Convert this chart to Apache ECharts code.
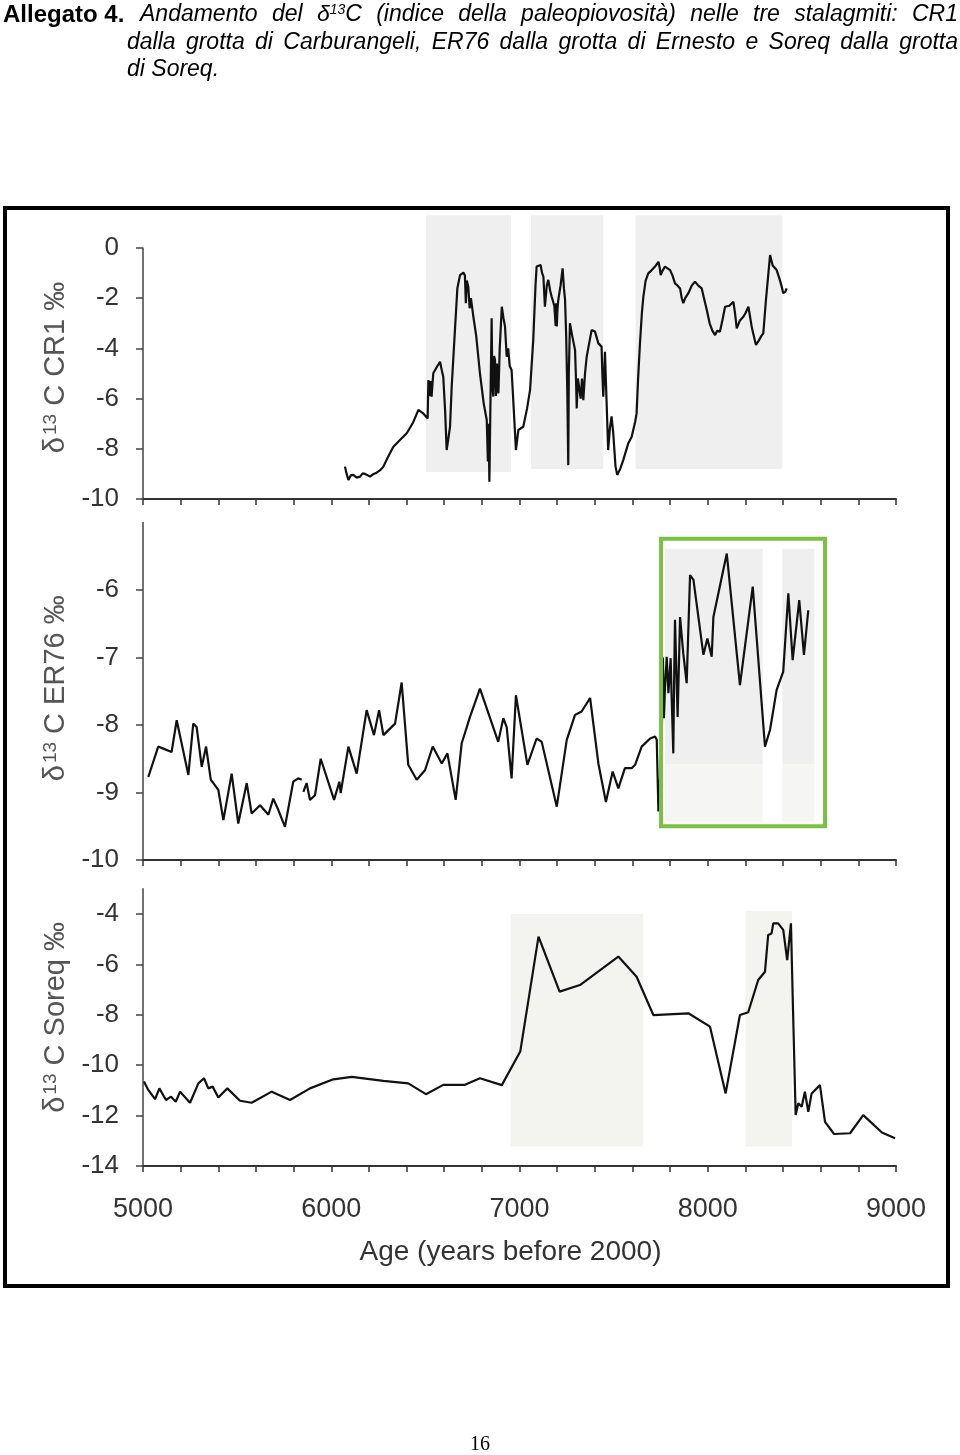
<!DOCTYPE html>
<html><head><meta charset="utf-8">
<script src="https://cdn.jsdelivr.net/npm/echarts@6/dist/echarts.min.js"></script>
<style>html,body{margin:0;padding:0;background:#fff}#c{width:960px;height:1455px}</style>
</head><body><div id="c"></div>
<script>
// ---------- DATA ----------
const xTickLabels = [5000, 6000, 7000, 8000, 9000];
const cr1Ticks = [0, -2, -4, -6, -8, -10];
const er76Ticks = [-6, -7, -8, -9, -10];
const soreqTicks = [-4, -6, -8, -10, -12, -14];

const cr1Age = [6073,6080,6091,6105,6117,6135,6153,6167,6179,6193,6206,6225,6241,6260,6277,6300,6330,6365,6401,6435,6463,6490,6512,6516,6522,6527,6533,6542,6560,6578,6588,6595,6605,6613,6622,6631,6640,6650,6657,6670,6684,6702,6710,6715,6720,6728,6735,6742,6755,6770,6790,6810,6826,6832,6836,6840,6846,6852,6856,6861,6865,6870,6875,6880,6888,6895,6906,6915,6923,6932,6940,6948,6958,6970,6981,6994,7020,7040,7056,7073,7085,7091,7112,7120,7127,7135,7145,7153,7163,7171,7185,7192,7195,7198,7202,7206,7218,7229,7236,7242,7248,7254,7259,7262,7268,7280,7295,7300,7304,7310,7318,7325,7332,7339,7348,7357,7370,7383,7401,7419,7436,7440,7445,7450,7454,7462,7471,7480,7489,7498,7510,7519,7535,7551,7565,7578,7596,7615,7622,7630,7640,7650,7658,7670,7684,7700,7720,7738,7745,7750,7760,7773,7800,7813,7826,7840,7853,7862,7870,7880,7897,7915,7932,7950,7968,7980,7995,8010,8025,8039,8050,8065,8080,8092,8115,8136,8145,8154,8170,8189,8200,8216,8235,8256,8270,8285,8295,8310,8331,8345,8366,8380,8393,8401,8412,8419];
const cr1D13C = [-8.71,-8.95,-9.24,-9.05,-9.04,-9.15,-9.11,-8.98,-9.0,-9.05,-9.11,-9.0,-8.95,-8.85,-8.71,-8.35,-7.92,-7.65,-7.38,-6.95,-6.45,-6.6,-6.79,-5.26,-5.9,-5.3,-5.92,-4.99,-4.75,-4.53,-4.9,-5.13,-6.5,-8.05,-7.6,-7.12,-5.5,-4.2,-3.27,-1.6,-1.08,-0.98,-1.1,-2.2,-1.3,-1.54,-2.4,-2.0,-2.74,-3.5,-5.0,-6.2,-6.85,-8.5,-7.0,-9.31,-6.0,-2.8,-5.5,-5.92,-4.3,-4.46,-5.9,-4.6,-5.79,-4.0,-2.34,-2.8,-3.13,-4.33,-4.0,-4.7,-4.86,-6.5,-8.05,-7.25,-7.12,-6.4,-5.66,-3.67,-1.5,-0.74,-0.68,-1.0,-1.14,-2.34,-1.5,-1.27,-1.7,-1.94,-2.3,-3.1,-2.2,-3.13,-2.4,-2.07,-1.5,-0.81,-1.6,-2.07,-3.5,-5.79,-8.65,-5.0,-3.0,-3.5,-4.06,-5.2,-6.39,-5.2,-5.13,-6.0,-5.2,-6.06,-5.0,-4.33,-3.8,-3.27,-3.33,-3.8,-3.93,-5.0,-5.92,-5.0,-4.13,-6.0,-8.05,-7.2,-6.71,-7.38,-8.7,-9.04,-8.8,-8.45,-8.1,-7.78,-7.52,-6.9,-6.59,-5.2,-3.8,-2.6,-1.94,-1.3,-1.01,-0.9,-0.74,-0.55,-0.8,-1.08,-0.9,-0.74,-0.88,-1.1,-1.41,-1.5,-1.61,-2.0,-2.2,-2.0,-1.8,-1.5,-1.34,-1.5,-1.61,-2.0,-2.47,-3.0,-3.3,-3.47,-3.3,-3.33,-2.8,-2.34,-2.3,-2.14,-2.6,-3.2,-2.9,-2.74,-2.6,-2.34,-3.2,-3.86,-3.7,-3.5,-3.4,-2.0,-0.28,-0.7,-0.88,-1.2,-1.54,-1.8,-1.75,-1.61];

const er76Age = [5028,5081,5108,5152,5179,5241,5267,5285,5312,5335,5360,5400,5427,5471,5506,5551,5577,5622,5666,5692,5719,5754,5798,5825,5843,5848,5852,5869,5887,5914,5944,6015,6043,6050,6091,6135,6188,6227,6254,6277,6339,6374,6409,6454,6498,6539,6587,6617,6661,6693,6737,6790,6887,6914,6932,6958,6981,7042,7091,7118,7198,7251,7295,7330,7375,7419,7459,7495,7525,7560,7596,7614,7649,7694,7720,7729,7738,7755,7762,7767,7773,7782,7791,7803,7808,7817,7822,7826,7840,7853,7870,7888,7906,7924,7977,7998,8021,8030,8101,8171,8239,8304,8331,8366,8401,8428,8451,8486,8511,8534];
const er76D13C = [-8.77,-8.32,-8.35,-8.40,-7.93,-8.74,-7.98,-8.03,-8.62,-8.32,-8.81,-8.96,-9.41,-8.72,-9.46,-8.86,-9.31,-9.19,-9.33,-9.09,-9.26,-9.51,-8.84,-8.79,-8.81,null,-8.99,-8.86,-9.11,-9.04,-8.50,-9.11,-8.84,-9.01,-8.32,-8.72,-7.78,-8.15,-7.78,-8.15,-7.98,-7.37,-8.59,-8.81,-8.67,-8.32,-8.57,-8.42,-9.11,-8.27,-7.88,-7.46,-8.25,-7.90,-8.03,-8.79,-7.56,-8.59,-8.20,-8.25,-9.21,-8.22,-7.85,-7.80,-7.60,-8.57,-9.14,-8.69,-8.94,-8.64,-8.64,-8.59,-8.32,-8.20,-8.17,-8.22,-9.28,-8.32,-7.0,-7.9,-7.43,-6.99,-7.53,-7.01,-7.56,-8.42,-7.2,-6.44,-7.88,-6.40,-6.94,-7.38,-5.78,-5.85,-6.96,-6.72,-6.99,-6.40,-5.46,-7.41,-5.95,-8.32,-8.07,-7.48,-7.21,-6.05,-7.04,-6.15,-6.96,-6.30];

const soreqAge = [5005,5028,5064,5087,5122,5149,5174,5197,5250,5294,5324,5347,5370,5400,5448,5515,5577,5684,5781,5887,6011,6109,6277,6409,6503,6595,6710,6790,6906,7004,7101,7213,7321,7525,7622,7711,7897,8012,8095,8171,8215,8268,8304,8321,8339,8348,8374,8401,8422,8433,8442,8451,8467,8481,8499,8516,8534,8552,8596,8623,8671,8756,8826,8925,8995];
const soreqD13C = [-10.65,-10.98,-11.35,-10.92,-11.38,-11.25,-11.45,-11.05,-11.49,-10.72,-10.52,-10.92,-10.85,-11.28,-10.92,-11.41,-11.49,-11.05,-11.38,-10.92,-10.56,-10.46,-10.62,-10.72,-11.15,-10.78,-10.78,-10.52,-10.79,-9.46,-4.90,-7.08,-6.82,-5.69,-6.49,-8.01,-7.94,-8.47,-11.12,-8.01,-7.90,-6.62,-6.29,-4.83,-4.77,-4.37,-4.37,-4.63,-5.83,-5.03,-4.37,-7.21,-11.98,-11.51,-11.65,-11.05,-11.85,-11.12,-10.79,-12.25,-12.73,-12.70,-11.98,-12.67,-12.90];

// shaded intervals: [ageFrom, ageTo, valueBottom, valueTop]
const shadeCR1 = [[6503, 6955, -8.92, 1.3], [7061, 7445, -8.8, 1.3], [7617, 8396, -8.8, 1.3]];
const shadeER76Upper = [[7773, 8292, -8.58, -5.39], [8396, 8566, -8.58, -5.39]];
const shadeER76Lower = [[7773, 8292, -9.44, -8.58], [8396, 8566, -9.44, -8.58]];
const boxER76 = [[7752, 8623, -9.50, -5.24]];
const shadeSoreq = [[6953, 7657, -13.23, -4.0], [8201, 8447, -13.23, -3.88]];

// ---------- CHART ----------
const FONT = 'Liberation Sans';
const zip = (a, b) => a.map((x, i) => [x, b[i]]);

function rectSeries(xi, yi, data, fill, stroke, z) {
  return {
    type: 'custom', xAxisIndex: xi, yAxisIndex: yi, z: z, clip: false, silent: true,
    data: data,
    renderItem: function (params, api) {
      const p0 = api.coord([api.value(0), api.value(3)]);
      const p1 = api.coord([api.value(1), api.value(2)]);
      return {
        type: 'rect',
        shape: { x: p0[0], y: p0[1], width: p1[0] - p0[0], height: p1[1] - p0[1] },
        style: stroke ? { fill: 'none', stroke: stroke, lineWidth: 4 } : { fill: fill }
      };
    }
  };
}

function xAx(gi, withLabels) {
  const ax = {
    type: 'value', gridIndex: gi, min: 5000, max: 9000, interval: 200,
    axisLine: { show: true, onZero: false, lineStyle: { color: '#333', width: 2 } },
    axisTick: { show: true, inside: false, length: 6, lineStyle: { color: '#333', width: 1.5 } },
    axisLabel: { show: withLabels, customValues: xTickLabels, formatter: v => String(v), color: '#333', fontSize: 27, fontFamily: FONT, margin: 30 },
    splitLine: { show: false }
  };
  if (withLabels) {
    ax.name = 'Age (years before 2000)';
    ax.nameLocation = 'middle';
    ax.nameGap = 72;
    ax.nameTextStyle = { color: '#333', fontSize: 28, fontFamily: FONT, padding: [0, 18, 0, 0] };
  }
  return ax;
}

function yAx(gi, min, max, ticks, label, shiftUp) {
  return {
    type: 'value', gridIndex: gi, min: min, max: max,
    axisLine: { show: true, onZero: false, lineStyle: { color: '#444', width: 1.5 } },
    axisTick: { show: true, inside: false, length: 7, customValues: ticks, lineStyle: { color: '#444', width: 1.5 } },
    axisLabel: { customValues: ticks, color: '#333', fontSize: 26, fontFamily: FONT, margin: 24 },
    splitLine: { show: false },
    name: '{a|δ}{b|13}{a| C ' + label + ' ‰}',
    nameLocation: 'middle', nameGap: 70, nameRotate: 90,
    nameTextStyle: {
      color: '#555', fontSize: 29, fontFamily: FONT, padding: [0, 0, 0, shiftUp * 2],
      rich: {
        a: { color: '#555', fontSize: 29, fontFamily: FONT },
        b: { color: '#555', fontSize: 19, fontFamily: FONT, verticalAlign: 'top', padding: [0, 0, 0, 2] }
      }
    }
  };
}

function hiddenAx(gi, min, max) {
  return { type: 'value', gridIndex: gi, min: min, max: max, show: false, splitLine: { show: false } };
}

function lineSeries(xi, data) {
  return {
    type: 'line', xAxisIndex: xi, yAxisIndex: xi, data: data, z: 3,
    symbol: 'none', showSymbol: false, connectNulls: false, silent: true,
    lineStyle: { color: '#111', width: 2.2 }
  };
}

// ---------- TITLE (justified text) ----------
const mctx = document.createElement('canvas').getContext('2d');
function tw(text, font) { mctx.font = font; return mctx.measureText(text).width; }
const TS = 23, TSUP = 14;
const fItalic = 'italic ' + TS + 'px "' + FONT + '"';
const fItalicSup = 'italic ' + TSUP + 'px "' + FONT + '"';
const fBold = 'bold 24px "' + FONT + '"';

function wordItem(w) {
  if (w === 'δ13C') {
    return {
      width: tw('δ', fItalic) + tw('13', fItalicSup) + tw('C', fItalic),
      style: {
        text: '{n|δ}{s|13}{n|C}',
        rich: {
          n: { fontStyle: 'italic', fontSize: TS, fontFamily: FONT, fill: '#000', verticalAlign: 'bottom' },
          s: { fontStyle: 'italic', fontSize: TSUP, fontFamily: FONT, fill: '#000', verticalAlign: 'top' }
        }
      }
    };
  }
  return { width: tw(w, fItalic), style: { text: w, font: fItalic, fill: '#000' } };
}
function justify(words, x0, x1, yc, justifyIt) {
  const items = words.map(wordItem);
  const sum = items.reduce((s, it) => s + it.width, 0);
  const gap = justifyIt ? (x1 - x0 - sum) / (items.length - 1) : tw(' ', fItalic);
  let x = x0;
  const out = [];
  items.forEach(it => {
    out.push({ type: 'text', x: x, y: yc, style: Object.assign({ verticalAlign: 'middle', align: 'left' }, it.style) });
    x += it.width + gap;
  });
  return out;
}
const titleBold = 'Allegato 4.';
const titleLine1 = 'Andamento del δ13C (indice della paleopiovosità) nelle tre stalagmiti: CR1';
const titleLine2 = 'dalla grotta di Carburangeli, ER76 dalla grotta di Ernesto e Soreq dalla grotta';
const titleLine3 = 'di Soreq.';

const graphics = [
  { type: 'text', x: 3, y: 15, style: { text: titleBold, font: fBold, fill: '#000', verticalAlign: 'middle' } }
]
  .concat(justify(titleLine1.split(' '), 140, 958, 15, true))
  .concat(justify(titleLine2.split(' '), 127, 958, 43, true))
  .concat(justify(titleLine3.split(' '), 127, 958, 70, false))
  .concat([
    { type: 'rect', z: 10, shape: { x: 5, y: 208, width: 943, height: 1078 }, style: { fill: 'none', stroke: '#000', lineWidth: 4 } },
    { type: 'text', x: 480, y: 1445, style: { text: '16', font: '20px "Liberation Serif"', fill: '#000', align: 'center', verticalAlign: 'middle' } }
  ]);

const chart = echarts.init(document.getElementById('c'), null, { renderer: 'canvas' });
chart.setOption({
  animation: false,
  backgroundColor: '#fff',
  grid: [
    { left: 143, width: 753, top: 248, height: 251, outerBoundsMode: 'none' },      // CR1
    { left: 143, width: 753, top: 522.5, height: 337.5, outerBoundsMode: 'none' },  // ER76
    { left: 143, width: 753, top: 888.8, height: 277.2, outerBoundsMode: 'none' },  // Soreq
    { left: 143, width: 753, top: 215.37, height: 283.63, outerBoundsMode: 'none' } // CR1 shading overlay
  ],
  xAxis: [xAx(0, false), xAx(1, false), xAx(2, true), hiddenAx(3, 5000, 9000)],
  yAxis: [
    yAx(0, -10, 0, cr1Ticks, 'CR1', 6),
    yAx(1, -10, -5, er76Ticks, 'ER76', 3),
    yAx(2, -14, -3, soreqTicks, 'Soreq', 10),
    hiddenAx(3, -10, 1.3)
  ],
  series: [
    rectSeries(3, 3, shadeCR1, '#efefef', null, 1),
    rectSeries(1, 1, shadeER76Upper, '#efefef', null, 1),
    rectSeries(1, 1, shadeER76Lower, '#f5f5f3', null, 1),
    rectSeries(2, 2, shadeSoreq, '#f3f4f0', null, 1),
    lineSeries(0, zip(cr1Age, cr1D13C)),
    lineSeries(1, zip(er76Age, er76D13C)),
    lineSeries(2, zip(soreqAge, soreqD13C)),
    rectSeries(1, 1, boxER76, null, '#7ac143', 5)
  ],
  graphic: graphics
});
</script>
</body></html>
